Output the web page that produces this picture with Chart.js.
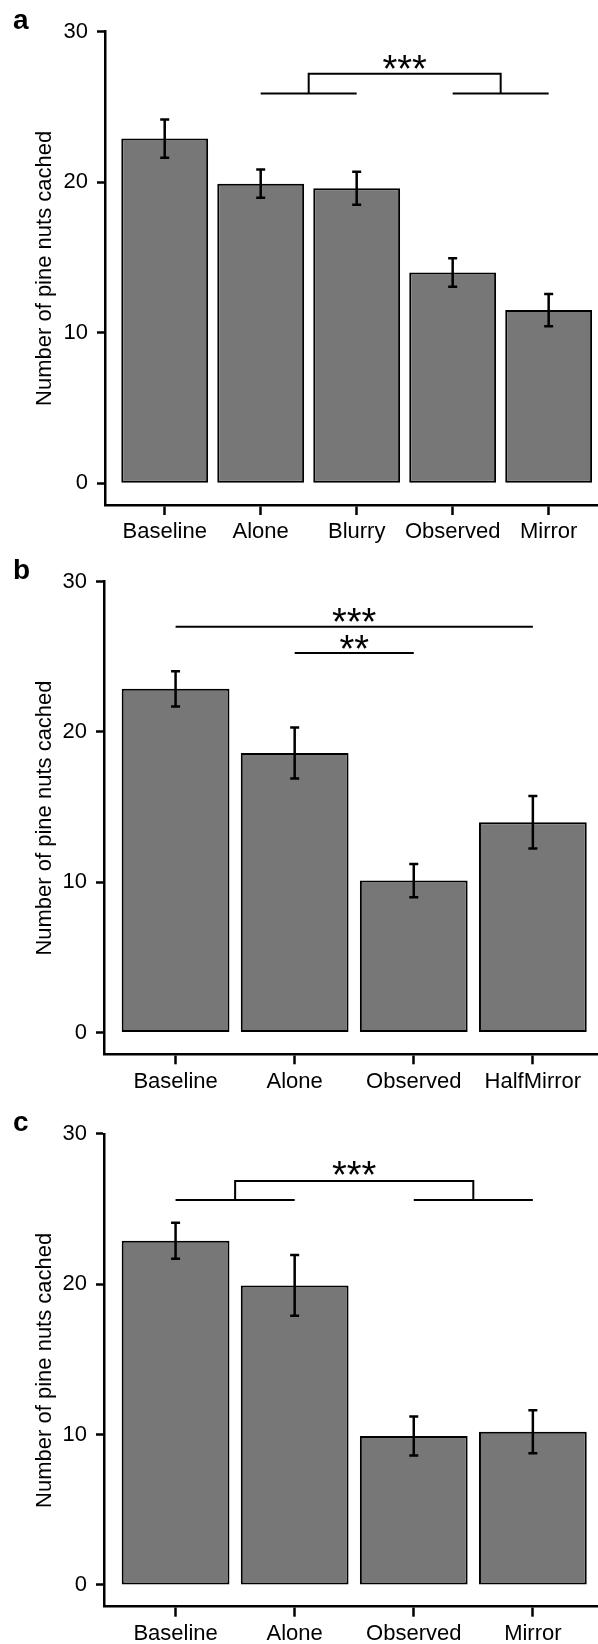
<!DOCTYPE html>
<html lang="en">
<head>
<meta charset="UTF-8">
<title>Pine nuts cached</title>
<script src="https://cdn.jsdelivr.net/npm/chart.js"></script>
<style>
    body {
        margin: 0;
        background: #fff;
        width: 598px;
        height: 1644px;
        overflow: hidden;
        position: relative;
    }
    .panel {
        position: absolute;
        left: 0;
    }
</style>
</head>
<body>
<div class="panel" style="top:0px"><canvas id="chartA" width="598" height="550"></canvas></div>
<div class="panel" style="top:550px"><canvas id="chartB" width="598" height="550"></canvas></div>
<div class="panel" style="top:1100px"><canvas id="chartC" width="598" height="544"></canvas></div>

<script>
// Data (means and SEM half-widths)
const yTicks = [0, 10, 20, 30];

const labelsA = ['Baseline', 'Alone', 'Blurry', 'Observed', 'Mirror'];
const meansA = [22.9, 19.9, 19.6, 14.0, 11.5];
const errsA = [1.27, 0.94, 1.1, 0.95, 1.07];

const labelsB = ['Baseline', 'Alone', 'Observed', 'HalfMirror'];
const meansB = [22.87, 18.6, 10.11, 13.99];
const errsB = [1.17, 1.69, 1.11, 1.75];

const labelsC = ['Baseline', 'Alone', 'Observed', 'Mirror'];
const meansC = [22.89, 19.92, 9.91, 10.18];
const errsC = [1.2, 2.02, 1.3, 1.43];

// significance marks: bar index pairs (1-based), heights in data units
const sigPairsA = [[2, 3], [4, 5]];
const sigLevelsA = [25.9, 27.2];
const sigStarA = [28.1];
const sigTextA = ['***'];

const sigPairsB = [[1, 4], [2, 3]];
const sigLevelsB = [27.0, 25.25];
const sigStarB = [27.9, 26.07];
const sigTextB = ['***', '**'];

const sigPairsC = [[1, 2], [3, 4]];
const sigLevelsC = [25.6, 26.86];
const sigStarC = [27.82];
const sigTextC = ['***'];

Chart.defaults.font.family = "'Liberation Sans', Arial, Helvetica, sans-serif";
Chart.defaults.color = '#000';

const STAR_SIZE = 38;

// error bars, significance brackets and the panel letter
const extras = {
    id: 'extras',
    afterDatasetsDraw(chart, args, o) {
        const { ctx, chartArea } = chart;
        const x = chart.scales.x, y = chart.scales.y;
        ctx.save();
        ctx.strokeStyle = '#000';
        ctx.fillStyle = '#000';
        ctx.lineCap = 'butt';

        ctx.lineWidth = 2.5;
        o.means.forEach((m, i) => {
            const px = x.getPixelForValue(i + 1);
            const top = y.getPixelForValue(m + o.errs[i]);
            const bot = y.getPixelForValue(m - o.errs[i]);
            ctx.beginPath();
            ctx.moveTo(px, top); ctx.lineTo(px, bot);
            ctx.moveTo(px - 4.5, top); ctx.lineTo(px + 4.5, top);
            ctx.moveTo(px - 4.5, bot); ctx.lineTo(px + 4.5, bot);
            ctx.stroke();
        });

        ctx.lineWidth = 2;
        ctx.font = STAR_SIZE + 'px ' + Chart.defaults.font.family;
        ctx.textAlign = 'center';
        ctx.textBaseline = 'alphabetic';
        const stars = (txt, cx, v) => ctx.fillText(txt, cx, y.getPixelForValue(v) + 0.57 * STAR_SIZE);

        if (o.kind === 'groups') {
            const low = y.getPixelForValue(o.levels[0]);
            const high = y.getPixelForValue(o.levels[1]);
            const mids = o.pairs.map(p => {
                const x1 = x.getPixelForValue(p[0]), x2 = x.getPixelForValue(p[1]);
                ctx.beginPath();
                ctx.moveTo(x1, low); ctx.lineTo(x2, low);
                ctx.stroke();
                return (x1 + x2) / 2;
            });
            ctx.beginPath();
            ctx.moveTo(mids[0], low); ctx.lineTo(mids[0], high);
            ctx.lineTo(mids[1], high); ctx.lineTo(mids[1], low);
            ctx.stroke();
            stars(o.texts[0], (mids[0] + mids[1]) / 2, o.starY[0]);
        } else {
            o.pairs.forEach((p, k) => {
                const x1 = x.getPixelForValue(p[0]), x2 = x.getPixelForValue(p[1]);
                const py = y.getPixelForValue(o.levels[k]);
                ctx.beginPath();
                ctx.moveTo(x1, py); ctx.lineTo(x2, py);
                ctx.stroke();
                stars(o.texts[k], (x1 + x2) / 2, o.starY[k]);
            });
        }

        ctx.font = 'bold 28px ' + Chart.defaults.font.family;
        ctx.textAlign = 'left';
        ctx.fillText(o.letter, 13, chartArea.top - 2.5);
        ctx.restore();
    }
};

function makePanel(id, labels, means, errs, xMin, xMax, yWidth, padTop, axisY, letter, sig) {
    const canvas = document.getElementById(id);
    const H = canvas.height;
    return new Chart(canvas, {
        type: 'bar',
        data: {
            datasets: [{
                data: means.map((m, i) => ({ x: i + 1, y: m })),
                backgroundColor: '#777777',
                borderColor: '#000',
                borderWidth: 2,
                borderSkipped: false,
                barPercentage: 0.905,
                categoryPercentage: 1
            }]
        },
        options: {
            responsive: false,
            animation: false,
            layout: { padding: { top: padTop, left: 0, right: 0, bottom: 0 } },
            plugins: {
                legend: { display: false },
                tooltip: { enabled: false },
                extras: Object.assign({ means, errs, letter }, sig)
            },
            scales: {
                x: {
                    type: 'linear',
                    min: xMin,
                    max: xMax,
                    offset: false,
                    afterBuildTicks: s => { s.ticks = labels.map((_, i) => ({ value: i + 1 })); },
                    afterFit: s => { s.height = H - axisY; },
                    ticks: {
                        callback: v => labels[v - 1],
                        font: { size: 22 },
                        padding: 4,
                        maxRotation: 0,
                        autoSkip: false
                    },
                    grid: { drawOnChartArea: false, offset: false, tickLength: 10, tickWidth: 2.5, tickColor: '#000' },
                    border: { color: '#000', width: 2.5 }
                },
                y: {
                    min: -1.45,
                    max: 30,
                    afterBuildTicks: s => { s.ticks = yTicks.map(v => ({ value: v })); },
                    afterFit: s => { s.width = yWidth; },
                    ticks: { font: { size: 22 }, padding: 9 },
                    grid: { drawOnChartArea: false, tickLength: 8, tickWidth: 2.5, tickColor: '#000' },
                    border: { color: '#000', width: 2.5 },
                    title: {
                        display: true,
                        text: 'Number of pine nuts cached',
                        font: { size: 22 },
                        padding: { top: 32, bottom: 0 }
                    }
                }
            }
        },
        plugins: [extras]
    });
}

makePanel('chartA', labelsA, meansA, errsA, 0.378, 5.514, 105, 31.7, 505, 'a',
    { kind: 'groups', pairs: sigPairsA, levels: sigLevelsA, starY: sigStarA, texts: sigTextA });
makePanel('chartB', labelsB, meansB, errsB, 0.399, 4.547, 104, 31.7, 504.3, 'b',
    { kind: 'lines', pairs: sigPairsB, levels: sigLevelsB, starY: sigStarB, texts: sigTextB });
makePanel('chartC', labelsC, meansC, errsC, 0.399, 4.547, 104, 33.9, 506.7, 'c',
    { kind: 'groups', pairs: sigPairsC, levels: sigLevelsC, starY: sigStarC, texts: sigTextC });
</script>
</body>
</html>
